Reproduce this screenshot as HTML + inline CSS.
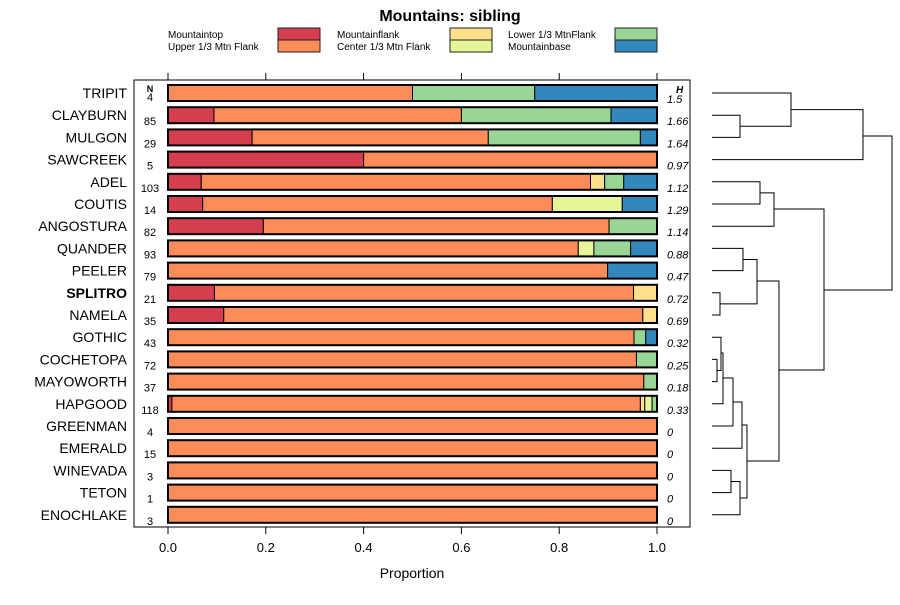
<!DOCTYPE html>
<html><head><meta charset="utf-8"><style>
body{margin:0;background:#fff;font-family:"Liberation Sans",sans-serif}
svg text{font-family:"Liberation Sans",sans-serif}
</style></head><body>
<svg id="c" width="900" height="600" xmlns="http://www.w3.org/2000/svg">
<text x="450" y="21" text-anchor="middle" font-size="16" font-weight="bold">Mountains: sibling</text>
<rect x="134" y="80" width="556" height="447" fill="none" stroke="#000"/>
<text x="412" y="578" text-anchor="middle" font-size="14">Proportion</text>
<g id="legend"></g>
<g id="bars"></g>
<g id="axes"></g>
<g id="dendro" stroke="#000" fill="none" stroke-width="1"></g>
</svg>
<script>
const sites=["TRIPIT","CLAYBURN","MULGON","SAWCREEK","ADEL","COUTIS","ANGOSTURA","QUANDER","PEELER","SPLITRO","NAMELA","GOTHIC","COCHETOPA","MAYOWORTH","HAPGOOD","GREENMAN","EMERALD","WINEVADA","TETON","ENOCHLAKE"];
const nVals=[4,85,29,5,103,14,82,93,79,21,35,43,72,37,118,4,15,3,1,3];
const hVals=["1.5","1.66","1.64","0.97","1.12","1.29","1.14","0.88","0.47","0.72","0.69","0.32","0.25","0.18","0.33","0","0","0","0","0"];
const categories=["Mountaintop","Upper 1/3 Mtn Flank","Mountainflank","Center 1/3 Mtn Flank","Lower 1/3 MtnFlank","Mountainbase"];
const colors=["#d53e4f","#fc8d59","#fee08b","#e6f598","#99d594","#3288bd"];
// proportions per category, per site
const mountaintop=[0,0.094,0.172,0.4,0.068,0.071,0.195,0,0,0.095,0.114,0,0,0,0.008,0,0,0,0,0];
const upperFlank=[0.5,0.506,0.483,0.6,0.796,0.715,0.707,0.839,0.899,0.857,0.857,0.953,0.958,0.973,0.958,1,1,1,1,1];
const mountainflank=[0,0,0,0,0.029,0,0,0,0,0.048,0.029,0,0,0,0.009,0,0,0,0,0];
const centerFlank=[0,0,0,0,0,0.143,0,0.032,0,0,0,0,0,0,0.015,0,0,0,0,0];
const lowerFlank=[0.25,0.306,0.311,0,0.039,0,0.098,0.075,0,0,0,0.024,0.042,0.027,0.01,0,0,0,0,0];
const mountainbase=[0.25,0.094,0.034,0,0.068,0.071,0,0.054,0.101,0,0,0.023,0,0,0,0,0,0,0,0];
const xTicks=[0,0.2,0.4,0.6,0.8,1.0];
const xTickLabels=["0.0","0.2","0.4","0.6","0.8","1.0"];
const series=[mountaintop,upperFlank,mountainflank,centerFlank,lowerFlank,mountainbase];

const NS="http://www.w3.org/2000/svg";
function mk(tag,attrs,parent,txt){const e=document.createElementNS(NS,tag);for(const k in attrs)e.setAttribute(k,attrs[k]);if(txt!==undefined)e.textContent=txt;parent.appendChild(e);return e;}
const X=v=>168+v*489;
const Y=i=>93+i*22.2;
const bars=document.getElementById('bars'),axes=document.getElementById('axes');

// legend
const lg=document.getElementById('legend');
const lx=[[168,278],[337,450],[508,615]];
categories.forEach((c,k)=>{
  const col=Math.floor(k/2),row=k%2;
  const t=mk('text',{x:lx[col][0],y:38+row*12,'font-size':10},lg,c);
  
  
  const r=mk('rect',{x:lx[col][1],y:28+row*12,width:42,height:12,fill:colors[k],stroke:'#222'},lg);
  
  
});

// ticks
xTicks.forEach((v,i)=>{
  const a=mk('line',{x1:X(v),x2:X(v),y1:73,y2:80,stroke:'#000'},axes);
  
  
  const b=mk('line',{x1:X(v),x2:X(v),y1:527,y2:534,stroke:'#000'},axes);
  
  
  const t=mk('text',{x:X(v),y:552,'text-anchor':'middle','font-size':13},axes,xTickLabels[i]);
  
  
});
let t=mk('text',{x:150,y:92,'text-anchor':'middle','font-size':9,'font-weight':'bold'},axes,'N');


t=mk('text',{x:676,y:93,'font-size':10,'font-weight':'bold','font-style':'italic'},axes,'H');



sites.forEach((s,i)=>{
  const y=Y(i);
  const l=mk('text',{x:127,y:y+5,'text-anchor':'end','font-size':14,'font-weight':s==='SPLITRO'?'bold':'normal'},axes,s);
  
  
  const n=mk('text',{x:150,y:y+(i===0?8:10),'text-anchor':'middle','font-size':11},axes,nVals[i]);
  
  
  const h=mk('text',{x:667,y:y+10,'font-size':11,'font-style':'italic'},axes,hVals[i]);
  
  
  let acc=0;
  series.forEach((arr,k)=>{
    const v=arr[i];if(v<=0)return;
    const r=mk('rect',{x:X(acc),y:y-8,width:X(acc+v)-X(acc),height:16,fill:colors[k],stroke:'#000','stroke-width':1},bars);
    
    
    acc+=v;
  });
  const o=mk('rect',{x:X(0),y:y-8,width:X(1)-X(0),height:16,fill:'none',stroke:'#000','stroke-width':2},bars);
  
  
});

// dendrogram
const D=document.getElementById('dendro');
function seg(p){const e=mk('polyline',{points:p},D);}
function merge(x1,y1,x2,y2,x){seg(`${x1},${y1} ${x},${y1} ${x},${y2} ${x2},${y2}`);}
const L=712;
merge(L,Y(1),L,Y(2),740);
merge(L,Y(0),740,(Y(1)+Y(2))/2,791);
merge(791,(Y(0)+(Y(1)+Y(2))/2)/2,L,Y(3),863);
merge(L,Y(4),L,Y(5),760);
merge(760,(Y(4)+Y(5))/2,L,Y(6),774);
merge(L,Y(7),L,Y(8),743);
merge(L,Y(9),L,Y(10),720);
merge(743,(Y(7)+Y(8))/2,720,(Y(9)+Y(10))/2,757);
merge(L,Y(12),L,Y(13),717);
merge(L,Y(11),717,(Y(12)+Y(13))/2,721);
merge(721,353,L,Y(14),723);
merge(723,378,L,Y(15),733);
merge(733,402,L,Y(16),742);
merge(L,Y(17),L,Y(18),731);
merge(731,(Y(17)+Y(18))/2,L,Y(19),740);
merge(742,425,740,498,747);
merge(757,281,747,461,779);
merge(774,209,779,370,824);
merge(863,136,824,290,892);
</script>
</body></html>
